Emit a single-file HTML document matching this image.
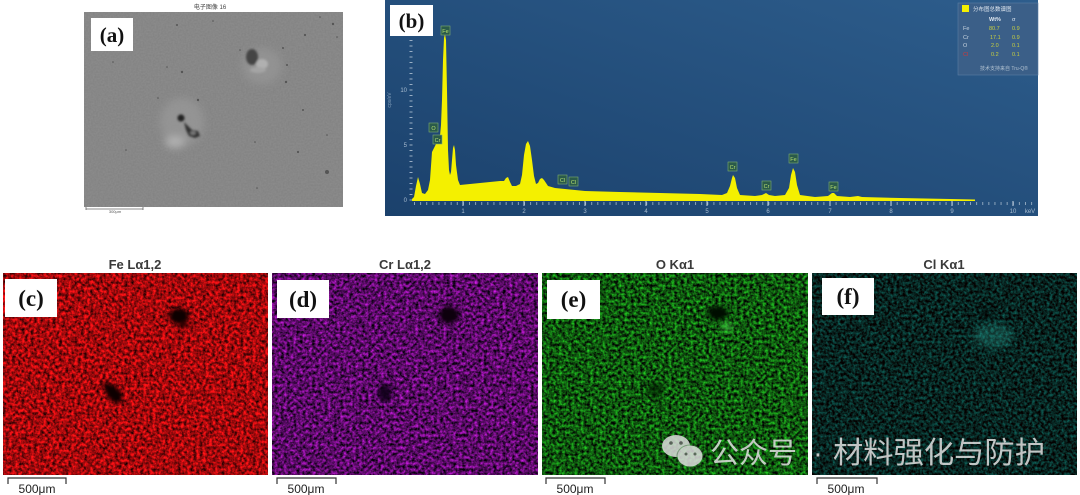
<!DOCTYPE html>
<html><head><meta charset="utf-8">
<style>
html,body{margin:0;padding:0;background:#fff;width:1080px;height:495px;overflow:hidden}
svg{display:block}
</style></head><body>
<svg width="1080" height="495" viewBox="0 0 1080 495" xmlns="http://www.w3.org/2000/svg">
<defs>
<linearGradient id="bg" x1="0" y1="1" x2="1" y2="0">
 <stop offset="0" stop-color="#1b416c"/>
 <stop offset="1" stop-color="#2d5d8c"/>
</linearGradient>
<filter id="nFe" x="0" y="0" width="1" height="1" color-interpolation-filters="sRGB">
 <feTurbulence type="fractalNoise" baseFrequency="0.32" numOctaves="3" seed="3"/>
 <feColorMatrix type="matrix" values="1.6 0 0 0 -0.17  0.12 0 0 0 -0.02  0.14 0 0 0 -0.02  0 0 0 0 1"/>
</filter>
<filter id="nCr" x="0" y="0" width="1" height="1" color-interpolation-filters="sRGB">
 <feTurbulence type="fractalNoise" baseFrequency="0.32" numOctaves="3" seed="11"/>
 <feColorMatrix type="matrix" values="1.2 0 0 0 -0.25  0.15 0 0 0 -0.03  1.3 0 0 0 -0.25  0 0 0 0 1"/>
</filter>
<filter id="nO" x="0" y="0" width="1" height="1" color-interpolation-filters="sRGB">
 <feTurbulence type="fractalNoise" baseFrequency="0.32" numOctaves="3" seed="23"/>
 <feColorMatrix type="matrix" values="0.2 0 0 0 -0.04  1.3 0 0 0 -0.31  0.2 0 0 0 -0.04  0 0 0 0 1"/>
</filter>
<filter id="nCl" x="0" y="0" width="1" height="1" color-interpolation-filters="sRGB">
 <feTurbulence type="fractalNoise" baseFrequency="0.34" numOctaves="3" seed="37"/>
 <feColorMatrix type="matrix" values="0.06 0 0 0 0  0.7 0 0 0 -0.21  0.65 0 0 0 -0.2  0 0 0 0 1"/>
</filter>
<filter id="nSem" x="0" y="0" width="1" height="1" color-interpolation-filters="sRGB">
 <feTurbulence type="fractalNoise" baseFrequency="0.6" numOctaves="1" seed="5"/>
 <feColorMatrix type="matrix" values="0.06 0 0 0 0.5  0.06 0 0 0 0.5  0.06 0 0 0 0.5  0 0 0 0 1"/>
</filter>
<filter id="b2" x="-50%" y="-50%" width="200%" height="200%"><feGaussianBlur stdDeviation="2"/></filter>
<filter id="b4" x="-50%" y="-50%" width="200%" height="200%"><feGaussianBlur stdDeviation="4"/></filter>
<filter id="b1" x="-50%" y="-50%" width="200%" height="200%"><feGaussianBlur stdDeviation="1"/></filter>
</defs>

<!-- ===== (a) SEM image ===== -->
<text x="210" y="9" font-family="Liberation Sans, Noto Sans CJK SC, sans-serif" font-size="6" fill="#444" text-anchor="middle">电子图像 16</text>
<rect x="84" y="12" width="259" height="195" fill="#8a8a8a" filter="url(#nSem)"/>
<g filter="url(#b4)">
 <ellipse cx="262" cy="66" rx="20" ry="18" fill="#959595" opacity="0.8"/>
 <ellipse cx="182" cy="122" rx="22" ry="24" fill="#979797" opacity="0.8"/>
 <ellipse cx="175" cy="142" rx="10" ry="6" fill="#b0b0b0"/>
</g>
<g filter="url(#b1)">
 <ellipse cx="252" cy="57" rx="6" ry="8" fill="#444"/>
 <ellipse cx="262" cy="64" rx="6" ry="5" fill="#b0b0b0"/>
 <ellipse cx="258" cy="70" rx="8" ry="3" fill="#a4a4a4"/>
 <circle cx="181" cy="118" r="3.5" fill="#222"/>
 <path d="M184,122 L192,130 L198,131 L200,136 L195,138 L189,136 L186,130 Z" fill="#333"/>
 <ellipse cx="193" cy="133" rx="3" ry="2" fill="#777"/>
</g>
<g fill="#555">
 <circle cx="177" cy="25" r="1"/><circle cx="213" cy="21" r="0.8"/><circle cx="113" cy="62" r="0.8"/>
 <circle cx="167" cy="67" r="0.8"/><circle cx="182" cy="72" r="1.2"/><circle cx="198" cy="100" r="1.2"/>
 <circle cx="240" cy="50" r="0.8"/><circle cx="283" cy="48" r="1"/><circle cx="305" cy="35" r="1.1"/>
 <circle cx="320" cy="17" r="0.8"/><circle cx="333" cy="24" r="1.2"/><circle cx="337" cy="37" r="0.8"/>
 <circle cx="287" cy="65" r="1"/><circle cx="286" cy="82" r="1.2"/><circle cx="303" cy="110" r="1"/>
 <circle cx="126" cy="150" r="0.8"/><circle cx="255" cy="142" r="0.8"/><circle cx="298" cy="152" r="1.1"/>
 <circle cx="327" cy="172" r="2"/><circle cx="327" cy="135" r="0.8"/><circle cx="257" cy="188" r="0.8"/>
 <circle cx="158" cy="98" r="0.8"/>
</g>
<rect x="91" y="18" width="42" height="33" fill="#fff"/>
<text x="112" y="42" font-family="Liberation Serif, serif" font-weight="bold" font-size="21" fill="#111" text-anchor="middle">(a)</text>
<line x1="86" y1="209" x2="143" y2="209" stroke="#666" stroke-width="0.8"/>
<line x1="86" y1="207" x2="86" y2="210" stroke="#666" stroke-width="0.8"/>
<line x1="143" y1="207" x2="143" y2="210" stroke="#666" stroke-width="0.8"/>
<text x="115" y="213" font-family="Liberation Sans, sans-serif" font-size="4" fill="#555" text-anchor="middle">300μm</text>

<!-- ===== (b) Spectrum ===== -->
<rect x="385" y="0" width="653" height="216" fill="url(#bg)"/>
<text x="391" y="100" font-family="Liberation Sans, sans-serif" font-size="5" fill="#7f9bb8" text-anchor="middle" transform="rotate(-90 391 100)">cps/eV</text>
<line x1="411" y1="200.5" x2="411" y2="35" stroke="#b8c8d8" stroke-width="3" stroke-dasharray="1 4.5" opacity="0.8"/>
<g font-family="Liberation Sans, sans-serif" font-size="6" fill="#a8bcd0" text-anchor="end">
 <text x="407" y="202">0</text><text x="407" y="147">5</text><text x="407" y="92">10</text>
</g>
<path d="M412,201 L412,199 L414,197 L416,186 L418,177 L420,184 L422,193 L425,194 L428,190 L430,180 L432,152 L434,148 L436,144 L438,142 L440,136 L441,125 L442,100 L443,60 L444,38 L445,34 L446,40 L447,90 L448,150 L449,170 L450,175 L451,172 L452,160 L453,148 L454,145 L455,150 L456,165 L458,180 L460,185 L470,184 L480,183 L490,182 L500,181 L504,181 L506,178 L508,177 L510,182 L512,186 L516,186 L520,184 L522,175 L524,155 L526,144 L528,141 L530,146 L532,160 L534,176 L536,184 L538,183 L540,179 L542,178 L544,180 L548,186 L555,188 L565,189 L585,191 L620,192 L660,193 L700,194 L722,195 L727,193 L730,186 L732,178 L733,175 L735,178 L737,188 L740,195 L755,196 L762,195 L766,193 L769,195 L775,196 L785,195 L789,188 L791,175 L793,168 L795,172 L797,185 L800,195 L815,197 L828,196 L832,193 L834,193 L837,196 L850,197 L858,196 L862,197 L900,198 L950,199 L975,199.5 L975,201 Z" fill="#f4f000"/>
<line x1="414" y1="203.5" x2="1036" y2="203.5" stroke="#b8c8d8" stroke-width="3" stroke-dasharray="1 5.11" opacity="0.7"/>
<g stroke="#c8d6e4" stroke-width="1">
 <line x1="463" y1="201" x2="463" y2="206"/><line x1="524" y1="201" x2="524" y2="206"/>
 <line x1="585" y1="201" x2="585" y2="206"/><line x1="646" y1="201" x2="646" y2="206"/>
 <line x1="707" y1="201" x2="707" y2="206"/><line x1="768" y1="201" x2="768" y2="206"/>
 <line x1="830" y1="201" x2="830" y2="206"/><line x1="891" y1="201" x2="891" y2="206"/>
 <line x1="952" y1="201" x2="952" y2="206"/><line x1="1013" y1="201" x2="1013" y2="206"/>
</g>
<g font-family="Liberation Sans, sans-serif" font-size="6" fill="#a8bcd0" text-anchor="middle">
 <text x="463" y="213">1</text><text x="524" y="213">2</text><text x="585" y="213">3</text>
 <text x="646" y="213">4</text><text x="707" y="213">5</text><text x="768" y="213">6</text>
 <text x="830" y="213">7</text><text x="891" y="213">8</text><text x="952" y="213">9</text>
 <text x="1013" y="213">10</text><text x="1030" y="213">keV</text>
</g>
<g font-family="Liberation Sans, sans-serif" font-size="5.5" fill="#b8e070" text-anchor="middle">
 <rect x="441" y="26" width="9" height="9" fill="#2a5a4a" stroke="#7fae70" stroke-width="0.6"/><text x="445.5" y="33">Fe</text>
 <rect x="429" y="123" width="9" height="9" fill="#2a5a4a" stroke="#7fae70" stroke-width="0.6"/><text x="433.5" y="130">O</text>
 <rect x="433" y="135" width="9" height="9" fill="#2a5a4a" stroke="#7fae70" stroke-width="0.6"/><text x="437.5" y="142">Cr</text>
 <rect x="558" y="175" width="9" height="9" fill="#2a5a4a" stroke="#7fae70" stroke-width="0.6"/><text x="562.5" y="182">Cl</text>
 <rect x="569" y="177" width="9" height="9" fill="#2a5a4a" stroke="#7fae70" stroke-width="0.6"/><text x="573.5" y="184">Cl</text>
 <rect x="728" y="162" width="9" height="9" fill="#2a5a4a" stroke="#7fae70" stroke-width="0.6"/><text x="732.5" y="169">Cr</text>
 <rect x="762" y="181" width="9" height="9" fill="#2a5a4a" stroke="#7fae70" stroke-width="0.6"/><text x="766.5" y="188">Cr</text>
 <rect x="789" y="154" width="9" height="9" fill="#2a5a4a" stroke="#7fae70" stroke-width="0.6"/><text x="793.5" y="161">Fe</text>
 <rect x="829" y="182" width="9" height="9" fill="#2a5a4a" stroke="#7fae70" stroke-width="0.6"/><text x="833.5" y="189">Fe</text>
</g>
<rect x="958" y="3" width="80" height="72" fill="#3b5f88" stroke="#5a7ea5" stroke-width="0.6"/>
<rect x="962" y="5" width="7" height="7" fill="#f4f000"/>
<g font-family="Liberation Sans, Noto Sans CJK SC, sans-serif" font-size="5.5">
 <text x="973" y="11" fill="#e0e8f0">分布图总数谱图</text>
 <text x="989" y="21" fill="#e0e8f0" font-weight="bold">Wt%</text>
 <text x="1012" y="21" fill="#e0e8f0">σ</text>
 <text x="963" y="30" fill="#c8d4e0">Fe</text><text x="989" y="30" fill="#c8d040">80.7</text><text x="1012" y="30" fill="#c8d040">0.9</text>
 <text x="963" y="39" fill="#c8d4e0">Cr</text><text x="990" y="39" fill="#c8d040">17.1</text><text x="1012" y="39" fill="#c8d040">0.9</text>
 <text x="963" y="47" fill="#c8d4e0">O</text><text x="991" y="47" fill="#c8d040">2.0</text><text x="1012" y="47" fill="#c8d040">0.1</text>
 <text x="963" y="56" fill="#d03838">Cl</text><text x="991" y="56" fill="#c8d040">0.2</text><text x="1012" y="56" fill="#c8d040">0.1</text>
 <text x="980" y="70" fill="#b0c0d0" font-size="5">技术支持来自 Tru-Q®</text>
</g>
<rect x="390" y="5" width="43" height="31" fill="#fff"/>
<text x="411.5" y="28" font-family="Liberation Serif, serif" font-weight="bold" font-size="21" fill="#111" text-anchor="middle">(b)</text>

<!-- ===== Map titles ===== -->
<g font-family="Liberation Sans, sans-serif" font-size="13" font-weight="bold" fill="#3a3a3a" text-anchor="middle">
 <text x="135" y="269">Fe Lα1,2</text>
 <text x="405" y="269">Cr Lα1,2</text>
 <text x="675" y="269">O Kα1</text>
 <text x="944" y="269">Cl Kα1</text>
</g>

<!-- ===== (c) Fe ===== -->
<rect x="3" y="273" width="265" height="202" fill="#a00" filter="url(#nFe)"/>
<g filter="url(#b2)">
 <ellipse cx="179" cy="316" rx="10" ry="8" fill="#100000"/>
 <ellipse cx="184" cy="325" rx="5" ry="3" fill="#300000"/>
 <path d="M102,382 L112,384 L122,392 L122,402 L113,403 L106,394 Z" fill="#0c0000"/>
</g>
<rect x="5" y="279" width="52" height="38" fill="#fff"/>
<text x="31" y="306" font-family="Liberation Serif, serif" font-weight="bold" font-size="23" fill="#111" text-anchor="middle">(c)</text>

<!-- ===== (d) Cr ===== -->
<rect x="272" y="273" width="266" height="202" fill="#606" filter="url(#nCr)"/>
<g filter="url(#b2)">
 <ellipse cx="449" cy="315" rx="10" ry="9" fill="#0a000c"/>
 <ellipse cx="385" cy="393" rx="7" ry="9" fill="#100014" opacity="0.9"/>
</g>
<rect x="277" y="280" width="52" height="38" fill="#fff"/>
<text x="303" y="307" font-family="Liberation Serif, serif" font-weight="bold" font-size="23" fill="#111" text-anchor="middle">(d)</text>

<!-- ===== (e) O ===== -->
<rect x="542" y="273" width="266" height="202" fill="#060" filter="url(#nO)"/>
<g filter="url(#b2)">
 <ellipse cx="718" cy="313" rx="10" ry="7" fill="#000a00"/>
 <ellipse cx="727" cy="327" rx="6" ry="5" fill="#40c040" opacity="0.6"/>
 <ellipse cx="655" cy="390" rx="8" ry="8" fill="#002000" opacity="0.6"/>
</g>
<rect x="547" y="280" width="53" height="39" fill="#fff"/>
<text x="573.5" y="307" font-family="Liberation Serif, serif" font-weight="bold" font-size="23" fill="#111" text-anchor="middle">(e)</text>

<!-- ===== (f) Cl ===== -->
<rect x="812" y="273" width="265" height="202" fill="#032" filter="url(#nCl)"/>
<g filter="url(#b4)">
 <ellipse cx="993" cy="336" rx="20" ry="12" fill="#30b0a0" opacity="0.3"/>
 <ellipse cx="986" cy="314" rx="8" ry="6" fill="#000" opacity="0.5"/>
</g>
<rect x="822" y="278" width="52" height="37" fill="#fff"/>
<text x="848" y="304" font-family="Liberation Serif, serif" font-weight="bold" font-size="23" fill="#111" text-anchor="middle">(f)</text>

<!-- ===== scale bars ===== -->
<g stroke="#333" stroke-width="1.2" fill="none">
 <path d="M8,484 L8,478 L66,478 L66,484"/>
 <path d="M277,484 L277,478 L336,478 L336,484"/>
 <path d="M546,484 L546,478 L605,478 L605,484"/>
 <path d="M817,484 L817,478 L877,478 L877,484"/>
</g>
<g font-family="Liberation Sans, sans-serif" font-size="12" fill="#222" text-anchor="middle">
 <text x="37" y="493">500μm</text>
 <text x="306" y="493">500μm</text>
 <text x="575" y="493">500μm</text>
 <text x="846" y="493">500μm</text>
</g>

<!-- ===== watermark ===== -->
<g opacity="0.85">
 <ellipse cx="676" cy="446" rx="14" ry="11" fill="#dcdcdc"/>
 <ellipse cx="690" cy="456" rx="13.5" ry="11.5" fill="#3a6a3a" opacity="0.5"/>
 <ellipse cx="690" cy="456" rx="12.5" ry="10.5" fill="#e0e0e0"/>
 <circle cx="671" cy="443" r="1.8" fill="#666"/><circle cx="681" cy="443" r="1.8" fill="#666"/>
 <circle cx="686" cy="454" r="1.5" fill="#666"/><circle cx="695" cy="454" r="1.5" fill="#666"/>
</g>
<g font-family="Liberation Sans, Noto Sans CJK SC, sans-serif" font-size="29" fill="#e2e2e2" opacity="0.85">
 <text x="710" y="463">公众号</text>
 <text x="818" y="463" text-anchor="middle">·</text>
 <text x="833" y="463" font-size="30" textLength="212" lengthAdjust="spacingAndGlyphs">材料强化与防护</text>
</g>
</svg>
</body></html>
